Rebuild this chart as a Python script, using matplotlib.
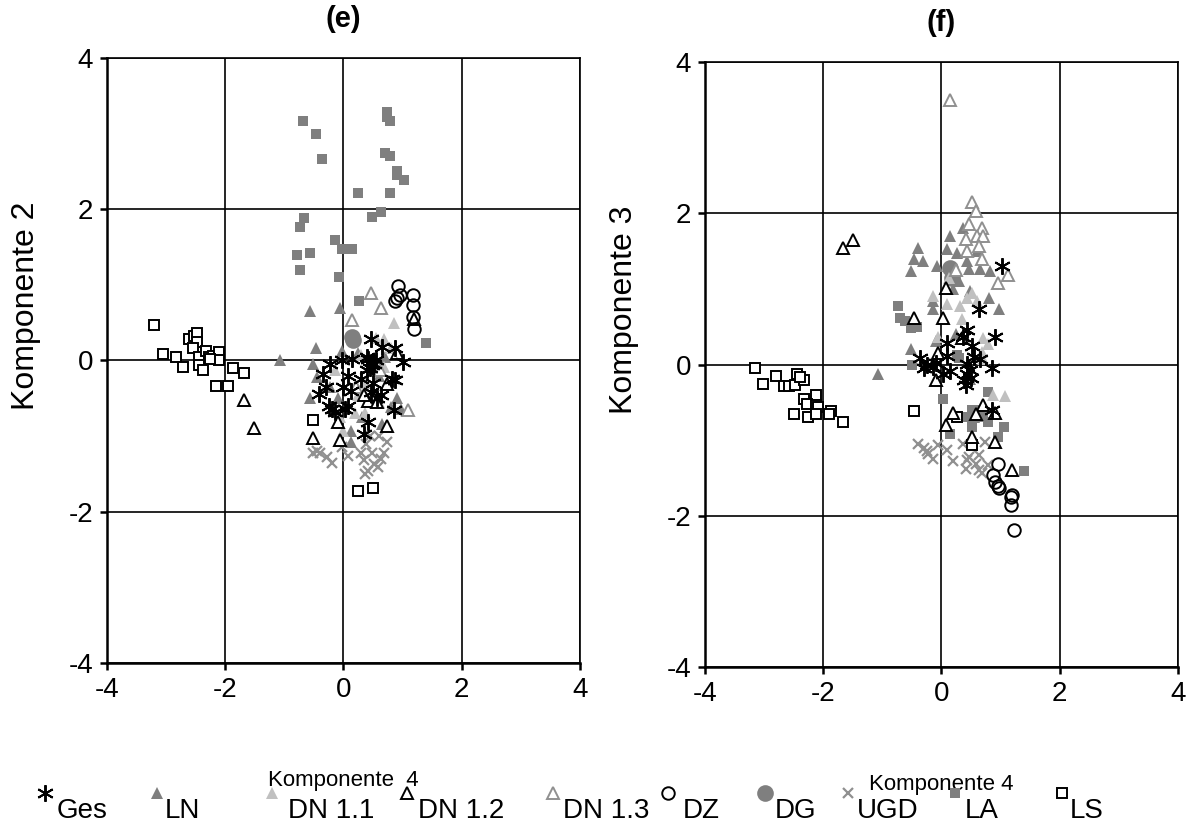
import matplotlib
matplotlib.use('Agg')
import matplotlib.pyplot as plt
from matplotlib.lines import Line2D

plt.rcParams['font.family'] = ['Liberation Sans', 'DejaVu Sans']
plt.rcParams['axes.unicode_minus'] = False

# Komponente 4 (x) vs. Komponente 2 (y)
ges_e = [(0.46, 0.29), (0.66, 0.18), (0.88, 0.16), (1.0, -0.02), (0.15, 0.02), (-0.02, 0.0),
         (-0.22, -0.04), (-0.34, -0.18), (0.4, 0.04), (0.49, -0.06), (0.4, -0.13), (0.51, -0.04),
         (0.45, -0.1), (0.55, 0.0), (0.42, 0.02), (0.08, -0.2), (0.88, -0.26), (0.82, -0.24),
         (-0.3, -0.35), (-0.42, -0.44), (0.0, -0.35), (0.12, -0.4), (0.46, -0.42), (0.63, -0.46),
         (-0.25, -0.6), (-0.19, -0.64), (-0.14, -0.68), (0.08, -0.6), (0.02, -0.64), (0.85, -0.66),
         (0.42, -0.82), (0.34, -0.97), (0.57, -0.49), (0.5, -0.3), (0.3, -0.25)]
ln_e = [(-0.57, 0.66), (-0.05, 0.7), (-0.47, 0.17), (-1.07, 0.01), (-0.51, -0.04), (-0.44, -0.22),
        (-0.56, -0.49), (-0.02, 0.13), (-0.22, -0.35), (0.8, -0.62), (0.97, -0.64), (0.66, -0.84),
        (0.32, -0.75), (0.12, -0.93), (0.12, -1.08), (0.91, -0.49), (0.25, 0.1), (0.6, -0.2),
        (-0.1, -0.5), (0.7, 0.05), (0.35, -0.3)]
dn11_e = [(0.86, 0.5), (0.68, 0.29), (0.8, 0.17), (0.51, -0.13), (0.34, -0.3), (0.37, -0.69),
          (0.0, -0.93), (0.2, -0.7), (-0.14, -0.13), (0.68, -0.09), (0.29, 0.07), (0.55, 0.3),
          (0.25, -0.45), (-0.05, -0.75), (0.6, -0.55)]
dn12_e = [(-1.69, -0.52), (-1.51, -0.89), (1.2, 0.55), (0.74, -0.31), (0.42, -0.53), (0.57, -0.55),
          (-0.1, -0.81), (0.74, -0.87), (-0.51, -1.02), (-0.05, -1.05), (0.35, -0.45), (0.9, 0.1)]
dn13_e = [(0.47, 0.89), (0.63, 0.7), (0.14, 0.53), (1.1, -0.66), (0.22, -0.35), (0.62, -0.12)]
dz_e = [(0.93, 0.98), (1.18, 0.86), (1.17, 0.73), (0.91, 0.82), (0.88, 0.79), (0.95, 0.86),
        (1.18, 0.57), (1.2, 0.41)]
dg_e = [(0.14, 0.31), (0.17, 0.27)]
ugd_e = [(-0.51, -1.23), (-0.39, -1.23), (-0.27, -1.28), (-0.19, -1.35), (-0.45, -1.2), (0.08, -1.26),
         (-0.02, -1.15), (0.39, -1.1), (0.74, -1.08), (0.34, -1.32), (0.42, -1.46), (0.51, -1.37),
         (0.63, -1.3), (0.68, -1.22), (0.59, -1.41), (0.37, -1.5), (0.29, -1.23), (0.49, -1.22),
         (0.45, -1.0), (0.6, -1.0)]
la_e = [(0.74, 3.28), (0.73, 3.22), (0.78, 3.17), (-0.68, 3.17), (-0.46, 3.0), (-0.37, 2.67),
        (0.71, 2.74), (0.78, 2.7), (0.91, 2.51), (0.9, 2.45), (1.02, 2.39), (0.25, 2.22),
        (0.78, 2.22), (0.63, 1.96), (0.49, 1.9), (-0.66, 1.88), (-0.74, 1.77), (-0.14, 1.59),
        (-0.02, 1.47), (0.14, 1.48), (-0.78, 1.4), (-0.56, 1.42), (-0.74, 1.2), (-0.08, 1.1),
        (0.27, 0.78), (1.4, 0.23)]
ls_e = [(-3.21, 0.47), (-3.06, 0.09), (-2.84, 0.04), (-2.72, -0.08), (-2.61, 0.28), (-2.52, 0.33),
        (-2.47, 0.37), (-2.47, 0.24), (-2.54, 0.16), (-2.44, 0.04), (-2.45, -0.06), (-2.38, -0.12),
        (-2.33, 0.12), (-2.28, 0.04), (-2.2, 0.06), (-2.11, 0.11), (-2.11, 0.01), (-2.25, 0.02),
        (-1.86, -0.1), (-1.69, -0.17), (-2.15, -0.34), (-1.96, -0.34), (-0.51, -0.79),
        (0.25, -1.73), (0.5, -1.69)]

# Komponente 4 (x) vs. Komponente 3 (y)
ges_f = [(1.03, 1.3), (0.63, 0.73), (0.44, 0.46), (0.91, 0.36), (0.36, 0.37), (0.1, 0.28),
         (0.52, 0.24), (0.1, 0.11), (0.66, 0.07), (-0.36, 0.08), (-0.24, 0.0), (-0.15, -0.03),
         (-0.3, -0.05), (0.86, -0.04), (0.44, 0.01), (0.49, -0.07), (0.44, -0.13), (0.41, -0.27),
         (0.15, -0.09), (0.03, -0.13), (-0.1, 0.02), (0.5, -0.18), (0.38, -0.2), (0.55, 0.1),
         (0.85, -0.6)]
ln_f = [(-0.39, 1.54), (-0.47, 1.39), (-0.32, 1.37), (-0.52, 1.24), (-0.07, 1.3), (0.15, 1.7),
        (0.1, 1.53), (0.27, 1.48), (0.46, 1.26), (0.66, 1.26), (0.83, 1.24), (0.44, 1.37),
        (0.37, 1.81), (0.49, 0.97), (0.2, 1.0), (0.8, 0.88), (0.98, 0.73), (-0.15, 0.84),
        (-0.14, 0.74), (-0.52, 0.21), (-0.1, 0.31), (0.24, 0.4), (-1.07, -0.13), (0.49, -0.19),
        (0.69, -0.65), (0.55, -0.7), (0.3, 1.1), (0.6, 1.5)]
dn11_f = [(-0.15, 0.9), (0.1, 0.8), (0.32, 0.77), (0.44, 0.88), (0.52, 0.94), (0.61, 0.84),
          (0.12, 1.14), (0.71, 0.35), (0.78, 0.27), (0.69, 0.17), (0.71, 0.07), (-0.05, 0.37),
          (0.88, -0.4), (1.07, -0.42), (0.35, 0.6)]
dn12_f = [(-1.66, 1.54), (-1.49, 1.65), (0.07, 1.01), (-0.47, 0.62), (0.02, 0.62), (-0.05, 0.15),
          (-0.1, -0.2), (0.19, -0.64), (0.08, -0.8), (0.71, -0.53), (0.58, -0.66), (0.9, -0.64),
          (0.51, -0.96), (0.9, -1.02), (1.2, -1.39), (0.35, 0.35)]
dn13_f = [(0.15, 3.5), (0.51, 2.15), (0.58, 2.03), (0.46, 1.86), (0.69, 1.81), (0.61, 1.7),
          (0.41, 1.66), (0.71, 1.7), (0.44, 1.5), (0.63, 1.57), (0.69, 1.4), (1.13, 1.19),
          (0.95, 1.08), (0.25, 1.25)]
dz_f = [(0.95, -1.31), (0.88, -1.46), (0.91, -1.55), (0.95, -1.6), (0.97, -1.63), (1.2, -1.73),
        (1.17, -1.75), (1.17, -1.86), (1.22, -2.19)]
dg_f = [(0.15, 1.27), (0.18, 1.15)]
ugd_f = [(-0.39, -1.05), (-0.3, -1.11), (-0.22, -1.18), (-0.15, -1.25), (-0.05, -1.07), (0.1, -1.13),
         (0.2, -1.27), (0.37, -1.05), (0.44, -1.26), (0.41, -1.38), (0.58, -1.31), (0.63, -1.4),
         (0.69, -1.44), (0.74, -1.02), (0.63, -1.2), (0.78, -1.33), (0.46, -1.22), (-0.25, -1.15)]
la_f = [(-0.73, 0.77), (-0.7, 0.61), (-0.61, 0.57), (-0.52, 0.48), (-0.41, 0.5), (-0.49, 0.0),
        (0.27, 0.13), (0.29, 0.08), (0.02, -0.46), (0.78, -0.36), (0.52, -0.6), (0.61, -0.6),
        (0.78, -0.76), (1.05, -0.82), (0.52, -0.82), (0.15, -0.92), (0.95, -0.96), (1.39, -1.41),
        (0.45, -0.7), (0.7, -0.7)]
ls_f = [(-3.16, -0.05), (-2.79, -0.15), (-3.01, -0.26), (-2.67, -0.28), (-2.57, -0.28), (-2.44, -0.12),
        (-2.47, -0.27), (-2.33, -0.21), (-2.4, -0.17), (-2.33, -0.45), (-2.13, -0.4), (-2.27, -0.52),
        (-2.13, -0.53), (-2.08, -0.56), (-2.5, -0.65), (-2.25, -0.69), (-2.12, -0.65), (-1.86, -0.61),
        (-1.91, -0.66), (-1.66, -0.76), (-0.47, -0.62), (0.27, -0.69), (0.52, -1.06)]

series_names = ['Ges', 'LN', 'DN 1.1', 'DN 1.2', 'DN 1.3', 'DZ', 'DG', 'UGD', 'LA', 'LS']
panel_e = [ges_e, ln_e, dn11_e, dn12_e, dn13_e, dz_e, dg_e, ugd_e, la_e, ls_e]
panel_f = [ges_f, ln_f, dn11_f, dn12_f, dn13_f, dz_f, dg_f, ugd_f, la_f, ls_f]

dark = '#7f7f7f'
light = '#c0c0c0'
styles = {
    'Ges':    dict(marker=(6, 2, 0), ms=12, mew=1.4, mfc='black', mec='black'),
    'LN':     dict(marker='^', ms=9, mew=0, mfc=dark, mec=dark),
    'DN 1.1': dict(marker='^', ms=9, mew=0, mfc=light, mec=light),
    'DN 1.2': dict(marker='^', ms=8, mew=1.4, mfc='white', mec='black'),
    'DN 1.3': dict(marker='^', ms=8, mew=1.4, mfc='white', mec='#909090'),
    'DZ':     dict(marker='o', ms=9, mew=1.4, mfc='none', mec='black'),
    'DG':     dict(marker='o', ms=12, mew=0, mfc=dark, mec=dark),
    'UGD':    dict(marker='x', ms=7, mew=1.6, mfc='#909090', mec='#909090'),
    'LA':     dict(marker='s', ms=7, mew=0, mfc=dark, mec=dark),
    'LS':     dict(marker='s', ms=7, mew=1.4, mfc='white', mec='black'),
}
draw_order = ['LA', 'UGD', 'DG', 'LN', 'DN 1.1', 'LS', 'DN 1.3', 'DN 1.2', 'DZ', 'Ges']

fig = plt.figure(figsize=(11.91, 8.25), dpi=100)
ax_e = fig.add_axes([0.0898, 0.1964, 0.3971, 0.7333])
ax_f = fig.add_axes([0.5919, 0.1915, 0.3971, 0.7333])

for ax, data, title, ylab, xlab in [(ax_e, panel_e, '(e)', 'Komponente 2', 'Komponente  4'),
                                     (ax_f, panel_f, '(f)', 'Komponente 3', 'Komponente 4')]:
    for name in draw_order:
        pts = data[series_names.index(name)]
        xs = [p[0] for p in pts]
        ys = [p[1] for p in pts]
        ax.plot(xs, ys, linestyle='none', **styles[name])
    ax.set_xlim(-4, 4)
    ax.set_ylim(-4, 4)
    ax.set_xticks([-4, -2, 0, 2, 4])
    ax.set_yticks([-4, -2, 0, 2, 4])
    ax.grid(True, color='black', linewidth=1.2)
    ax.set_axisbelow(True)
    for side in ['top', 'right']:
        ax.spines[side].set_linewidth(1.2)
    for side in ['left', 'bottom']:
        ax.spines[side].set_linewidth(1.8)
    ax.tick_params(direction='out', length=5, width=1.8, labelsize=20, pad=5)
    ax.set_title(title, fontsize=21, fontweight='bold', pad=22)
    ax.set_ylabel(ylab, fontsize=23)
    ax.yaxis.set_label_coords(-0.14, 0.59)
    ax.set_xlabel(xlab, fontsize=16, labelpad=48)

# legend row along the bottom edge
legend_marker_x = [45, 157, 272, 407, 553, 668, 765, 848, 955, 1062]
legend_text_x = [57, 165, 288, 418, 563, 683, 775, 857, 965, 1070]
for name, mx, tx in zip(series_names, legend_marker_x, legend_text_x):
    fig.add_artist(Line2D([mx / 1191], [1 - 793 / 825], transform=fig.transFigure,
                          linestyle='none', **styles[name]))
    fig.text(tx / 1191, 1 - 818 / 825, name, fontsize=20, ha='left', va='baseline')

fig.savefig('out.png', dpi=100)
